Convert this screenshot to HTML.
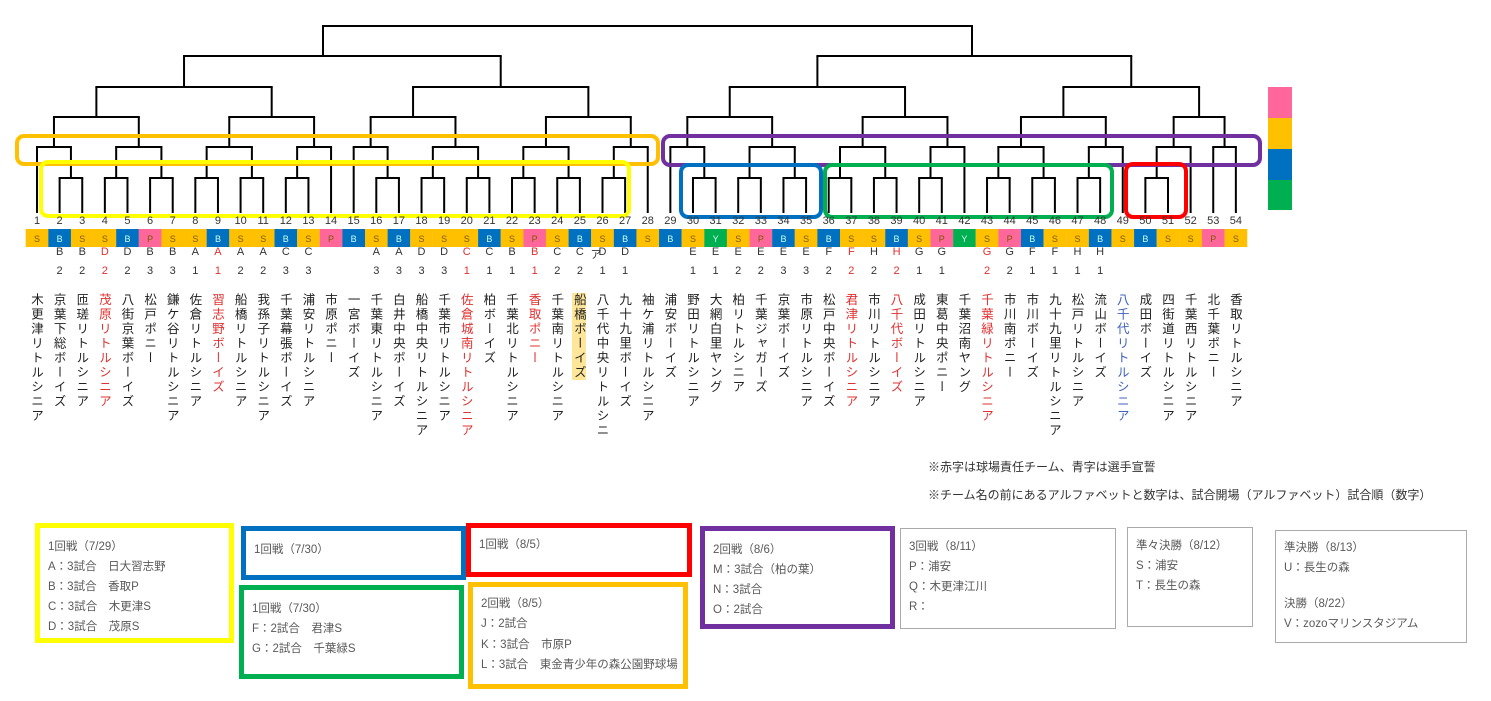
<!DOCTYPE html>
<html><head><meta charset="utf-8">
<style>
body{margin:0;background:#fff;width:1491px;height:701px;overflow:hidden;position:relative;font-family:"Liberation Sans","Noto Sans CJK JP",sans-serif;color:#333}
.a{position:absolute}
.nm{position:absolute;top:293px;writing-mode:vertical-rl;text-orientation:upright;font-size:12.5px;letter-spacing:2px;line-height:14px;color:#222}
.num{position:absolute;top:215px;font-size:11px;width:22px;text-align:center;color:#333}
.cd{position:absolute;font-size:11px;width:22px;text-align:center;color:#333}
.box{position:absolute;box-sizing:border-box;font-size:11.5px;color:#595959}
.box div{position:absolute;left:8px;white-space:nowrap}
</style></head><body>
<svg id="s" class="a" style="left:0;top:0" width="1491" height="701"></svg>
<div id="lbl"></div>
<div class="a" style="left:928px;top:458px;font-size:12px;color:#333">※赤字は球場責任チーム、青字は選手宣誓</div>
<div class="a" style="left:928px;top:486px;font-size:12px;color:#333">※チーム名の前にあるアルファベットと数字は、試合開場（アルファベット）試合順（数字）</div>

<div class="box" style="left:35px;top:523px;width:199px;height:120px;border:5px solid #FFFF00">
<div style="top:10px">1回戦（7/29）</div><div style="top:30px">A：3試合　日大習志野</div><div style="top:50px">B：3試合　香取P</div><div style="top:70px">C：3試合　木更津S</div><div style="top:90px">D：3試合　茂原S</div></div>
<div class="box" style="left:241px;top:526px;width:225px;height:54px;border:5px solid #0070C0"><div style="top:10px">1回戦（7/30）</div></div>
<div class="box" style="left:466px;top:523px;width:226px;height:54px;border:5px solid #FF0000"><div style="top:8px">1回戦（8/5）</div></div>
<div class="box" style="left:239px;top:585px;width:225px;height:94px;border:5px solid #00B050">
<div style="top:10px">1回戦（7/30）</div><div style="top:30px">F：2試合　君津S</div><div style="top:50px">G：2試合　千葉緑S</div></div>
<div class="box" style="left:468px;top:582px;width:220px;height:107px;border:5px solid #FFC000">
<div style="top:8px">2回戦（8/5）</div><div style="top:28px">J：2試合</div><div style="top:49px">K：3試合　市原P</div><div style="top:69px">L：3試合　東金青少年の森公園野球場</div></div>
<div class="box" style="left:700px;top:526px;width:195px;height:103px;border:5px solid #7030A0">
<div style="top:10px">2回戦（8/6）</div><div style="top:30px">M：3試合（柏の葉）</div><div style="top:50px">N：3試合</div><div style="top:70px">O：2試合</div></div>
<div class="box" style="left:900px;top:528px;width:216px;height:101px;border:1px solid #aaa">
<div style="top:9px">3回戦（8/11）</div><div style="top:29px">P：浦安</div><div style="top:49px">Q：木更津江川</div><div style="top:69px">R：</div></div>
<div class="box" style="left:1127px;top:527px;width:126px;height:100px;border:1px solid #aaa">
<div style="top:9px">準々決勝（8/12）</div><div style="top:29px">S：浦安</div><div style="top:49px">T：長生の森</div></div>
<div class="box" style="left:1275px;top:530px;width:192px;height:113px;border:1px solid #aaa">
<div style="top:8px">準決勝（8/13）</div><div style="top:28px">U：長生の森</div><div style="top:64px">決勝（8/22）</div><div style="top:84px">V：zozoマリンスタジアム</div></div>

<script>
var X=function(i){return 37+(i-1)*22.62};
var Y=[26,56,87,117,147,178],LEAF=213;
var L=[[[[1,[2,3]],[[4,5],[6,7]]],[[[8,9],[10,11]],[[12,13],14]]],[[[15,[16,17]],[[18,19],[20,21]]],[[[22,23],[24,25]],[[26,27],28]]]];
var R=[[[[29,[30,31]],[[32,33],[34,35]]],[[[36,37],[38,39]],[[40,41],42]]],[[[[43,44],[45,46]],[[47,48],49]],[[[50,51],52],[53,54]]]];
L.ox=323;R.ox=972;
var svg='';
function ln(a,b,c,d){svg+='<line x1="'+a+'" y1="'+b+'" x2="'+c+'" y2="'+d+'" stroke="#000" stroke-width="2"/>';}
function draw(n,d){
 if(typeof n=='number')return X(n);
 var y=Y[d];var xs=[];
 for(var k=0;k<2;k++){var c=n[k];var cx=draw(c,d+1);var cy=(typeof c=='number')?LEAF:Y[d+1];ln(cx,y,cx,cy);xs.push(cx);}
 ln(xs[0]-1,y,xs[1]+1,y);
 return n.ox||(xs[0]+xs[1])/2;
}
draw([L,R],0);
function rb(x1,y1,x2,y2,c){svg+='<rect x="'+x1+'" y="'+y1+'" width="'+(x2-x1)+'" height="'+(y2-y1)+'" rx="7" fill="none" stroke="'+c+'" stroke-width="4"/>';}
rb(17,136,658,164,'#FFC000');
rb(41,162,629,216,'#FFFF00');
rb(663,136,1260,165,'#7030A0');
rb(681,165,821,217,'#0070C0');
rb(825,165,1112,217,'#00B050');
rb(1126,164,1186,217,'#FF0000');
svg+='<rect x="1268" y="87" width="24" height="31" fill="#FF6699"/><rect x="1268" y="118" width="24" height="31" fill="#FFC000"/><rect x="1268" y="149" width="24" height="31" fill="#0070C0"/><rect x="1268" y="180" width="24" height="30" fill="#00B050"/>';
var T=[
['S','',0,'木更津リトルシニア',0],['B','B2',0,'京葉下総ボーイズ',0],['S','B2',0,'匝瑳リトルシニア',0],['S','D2',1,'茂原リトルシニア',1],['B','D2',0,'八街京葉ボーイズ',0],
['P','B3',0,'松戸ポニー',0],['S','B3',0,'鎌ケ谷リトルシニア',0],['S','A1',0,'佐倉リトルシニア',0],['B','A1',1,'習志野ボーイズ',1],['S','A2',0,'船橋リトルシニア',0],
['S','A2',0,'我孫子リトルシニア',0],['B','C3',0,'千葉幕張ボーイズ',0],['S','C3',0,'浦安リトルシニア',0],['P','',0,'市原ポニー',0],['B','',0,'一宮ボーイズ',0],
['S','A3',0,'千葉東リトルシニア',0],['B','A3',0,'白井中央ボーイズ',0],['S','D3',0,'船橋中央リトルシニア',0],['S','D3',0,'千葉市リトルシニア',0],['S','C1',1,'佐倉城南リトルシニア',1],
['B','C1',0,'柏ボーイズ',0],['S','B1',0,'千葉北リトルシニア',0],['P','B1',1,'香取ポニー',1],['S','C2',0,'千葉南リトルシニア',0],['B','C2',0,'船橋ボーイズ',3],
['S','D1',0,'八千代中央リトルシニ',0],['B','D1',0,'九十九里ボーイズ',0],['S','',0,'袖ケ浦リトルシニア',0],['B','',0,'浦安ボーイズ',0],['S','E1',0,'野田リトルシニア',0],
['Y','E1',0,'大網白里ヤング',0],['S','E2',0,'柏リトルシニア',0],['P','E2',0,'千葉ジャガーズ',0],['B','E3',0,'京葉ボーイズ',0],['S','E3',0,'市原リトルシニア',0],
['B','F2',0,'松戸中央ボーイズ',0],['S','F2',1,'君津リトルシニア',1],['S','H2',0,'市川リトルシニア',0],['B','H2',1,'八千代ボーイズ',1],['S','G1',0,'成田リトルシニア',0],
['P','G1',0,'東葛中央ポニー',0],['Y','',0,'千葉沼南ヤング',0],['S','G2',1,'千葉緑リトルシニア',1],['P','G2',0,'市川南ポニー',0],['B','F1',0,'市川ボーイズ',0],
['S','F1',0,'九十九里リトルシニア',0],['S','H1',0,'松戸リトルシニア',0],['B','H1',0,'流山ボーイズ',0],['S','',0,'八千代リトルシニア',2],['B','',0,'成田ボーイズ',0],
['S','',0,'四街道リトルシニア',0],['S','',0,'千葉西リトルシニア',0],['P','',0,'北千葉ポニー',0],['S','',0,'香取リトルシニア',0]];
var col={S:'#FFC000',B:'#0070C0',P:'#FF6699',Y:'#00B050'};
var h='';
for(var i=0;i<54;i++){
 var t=T[i],x=X(i+1);
 svg+='<rect x="'+(x-11.31)+'" y="229" width="22.7" height="18" fill="'+col[t[0]]+'"/>';
 svg+='<text x="'+x+'" y="242" font-size="9" text-anchor="middle" fill="'+(t[0]=='S'||t[0]=='P'?'#7a5a00':'#cfe')+'" font-family="Liberation Sans">'+t[0]+'</text>';
 h+='<div class="num" style="left:'+(x-11)+'px">'+(i+1)+'</div>';
 if(t[1]){var c=t[2]?'#e03030':'#333';
  h+='<div class="cd" style="left:'+(x-11)+'px;top:246px;color:'+c+'">'+t[1][0]+'</div>';
  h+='<div class="cd" style="left:'+(x-11)+'px;top:265px;color:'+c+'">'+t[1][1]+'</div>';}
 var nc=t[4]==1?'#e03030':t[4]==2?'#4060c0':'#222';
 var bg=t[4]==3?'background:#FFE699;':'';
 h+='<div class="nm" style="left:'+(x-8)+'px;color:'+nc+';'+bg+'">'+t[3]+'</div>';
}
h+='<div class="cd" style="left:585px;top:246px">ア</div>';
document.getElementById('s').innerHTML=svg;
document.getElementById('lbl').innerHTML=h;
</script>
</body></html>
